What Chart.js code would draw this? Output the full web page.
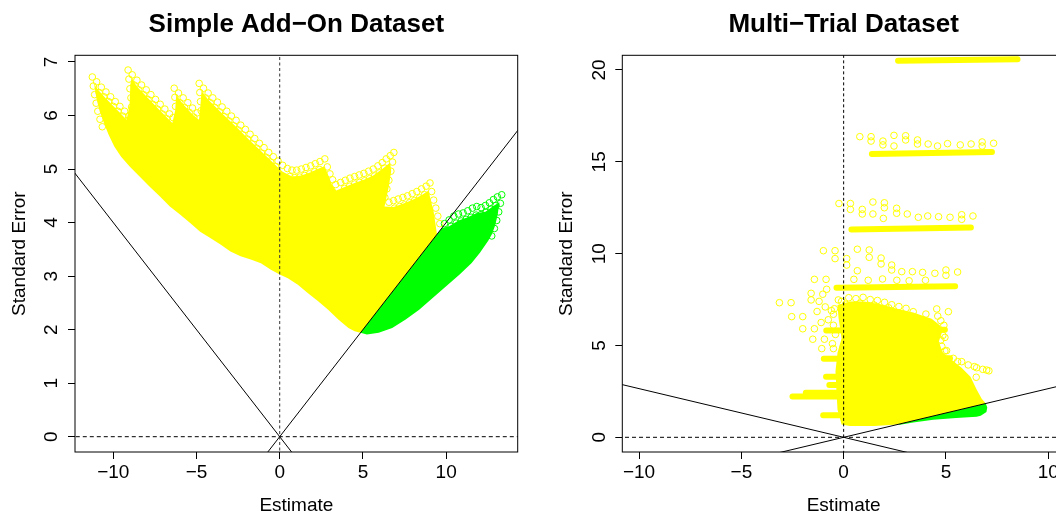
<!DOCTYPE html>
<html lang="en">
<head>
  <meta charset="UTF-8" />
  <title>Funnel Plots</title>
  <script src="https://cdn.jsdelivr.net/npm/chart.js"></script>
  <style>
    html, body { margin: 0; padding: 0; background: #fff; overflow: hidden; }
    #wrap { position: relative; width: 1056px; height: 512px; overflow: hidden; background: #fff; }
    #wrap canvas { position: absolute; top: 0; }
    #addOn { left: 0; }
    #multi { left: 528px; }
  </style>
</head>
<body>
  <div id="wrap">
    <canvas id="addOn" width="528" height="540"></canvas>
    <canvas id="multi" width="548" height="540"></canvas>
  </div>

  <script>
// ---- Simple Add-On Dataset ----
const addOnXTicks = [-10, -5, 0, 5, 10];
const addOnYTicks = [0, 1, 2, 3, 4, 5, 6, 7];
const addOnXRange = [-12.3, 14.3];
const addOnYRange = [-0.286, 7.125];

// dense part of the non-significant cloud
const addOnCloud = [
  [-11.15, 6.58], [-10.85, 6.46], [-10.44, 6.32], [-10.0, 6.18], [-9.6, 6.05], [-9.2, 5.92],
  [-9.02, 6.2], [-8.98, 6.55], [-8.9, 6.7], [-8.58, 6.54], [-8.02, 6.36], [-7.46, 6.18], [-6.9, 6.0], [-6.45, 5.86],
  [-6.28, 6.1], [-6.22, 6.38], [-5.8, 6.21], [-5.24, 6.02], [-4.85, 5.92],
  [-4.76, 6.2], [-4.7, 6.46], [-4.3, 6.3], [-3.46, 6.04], [-2.62, 5.79], [-1.78, 5.53], [-0.94, 5.28], [-0.1, 5.03], [0.18, 4.95],
  [0.74, 4.86], [1.3, 4.88], [1.86, 4.94], [2.42, 5.02], [2.7, 5.05], [2.9, 4.9], [3.15, 4.7], [3.4, 4.6],
  [3.94, 4.67], [4.5, 4.74], [5.06, 4.8], [5.62, 4.88], [6.16, 5.0], [6.64, 5.12], [6.7, 4.96], [6.56, 4.68], [6.4, 4.45], [6.3, 4.3],
  [6.84, 4.29], [7.4, 4.35], [7.96, 4.42], [8.52, 4.51], [8.95, 4.6], [9.05, 4.45], [9.25, 4.2], [9.45, 3.78],
  [4.85, 1.94], [4.5, 1.97], [4.13, 2.03], [3.52, 2.19], [2.91, 2.37], [2.31, 2.53], [1.7, 2.68],
  [1.09, 2.84], [0.49, 2.96], [0, 3.03], [-0.53, 3.12], [-1.13, 3.24], [-1.74, 3.31], [-2.35, 3.37],
  [-2.96, 3.46], [-3.56, 3.59], [-4.17, 3.71], [-4.78, 3.83], [-5.38, 3.99], [-5.99, 4.15], [-6.6, 4.3],
  [-7.21, 4.49], [-7.81, 4.67], [-8.42, 4.86], [-9.03, 5.05], [-9.53, 5.23], [-9.94, 5.42], [-10.28, 5.64],
  [-10.55, 5.85], [-10.81, 6.07], [-11.0, 6.3], [-11.15, 6.58]
];
// dense part of the significant cloud
const addOnSigCloud = [
  [4.85, 1.94], [9.75, 3.9], [10.18, 3.93], [10.74, 4.04], [11.3, 4.1], [11.84, 4.18], [12.36, 4.2],
  [12.84, 4.31], [13.2, 4.38], [13.1, 4.15], [12.95, 3.95], [12.75, 3.78], [12.53, 3.66], [12.02, 3.43],
  [11.52, 3.24], [10.81, 3.03], [10.0, 2.81], [9.19, 2.59], [8.38, 2.37], [7.57, 2.19], [6.76, 2.03],
  [5.95, 1.94], [5.24, 1.91], [4.85, 1.94]
];
// single trials visible along the upper edges
const addOnRings = [
  [-11.26, 6.72], [-11.0, 6.63], [-10.72, 6.53], [-10.44, 6.44], [-10.16, 6.35], [-9.88, 6.26], [-9.6, 6.17], [-9.32, 6.08], [-9.05, 5.99],
  [-11.2, 6.55], [-11.12, 6.39], [-11.03, 6.23], [-10.93, 6.08], [-10.8, 5.93], [-10.66, 5.79],
  [-10.85, 6.43], [-10.57, 6.35], [-10.29, 6.26], [-10.0, 6.17], [-9.72, 6.08], [-9.44, 5.99], [-9.16, 5.9],
  [-9.11, 6.85], [-8.86, 6.76], [-8.58, 6.66], [-8.3, 6.57], [-8.02, 6.48], [-7.74, 6.39], [-7.46, 6.3], [-7.18, 6.21], [-6.9, 6.12], [-6.62, 6.03], [-6.4, 5.96],
  [-9.06, 6.68], [-9.0, 6.5], [-8.94, 6.33], [-8.9, 6.16],
  [-8.75, 6.57], [-8.47, 6.48], [-8.19, 6.39], [-7.91, 6.3], [-7.63, 6.21], [-7.35, 6.12], [-7.07, 6.03], [-6.79, 5.94],
  [-6.34, 6.51], [-6.08, 6.42], [-5.8, 6.33], [-5.52, 6.24], [-5.24, 6.14], [-4.96, 6.05],
  [-6.3, 6.34], [-6.26, 6.17], [-6.0, 6.24], [-5.72, 6.15], [-5.44, 6.06], [-5.16, 5.97],
  [-4.84, 6.6], [-4.58, 6.51], [-4.3, 6.42], [-4.02, 6.33], [-3.74, 6.25], [-3.46, 6.16], [-3.18, 6.08], [-2.9, 5.99], [-2.62, 5.91], [-2.34, 5.82],
  [-2.06, 5.74], [-1.78, 5.65], [-1.5, 5.57], [-1.22, 5.48], [-0.94, 5.4], [-0.66, 5.31], [-0.38, 5.23], [-0.1, 5.15], [0.18, 5.07],
  [-4.8, 6.43], [-4.76, 6.26], [-4.72, 6.09],
  [-4.46, 6.33], [-4.18, 6.24], [-3.9, 6.15], [-3.62, 6.07], [-3.34, 5.98], [-3.06, 5.9], [-2.78, 5.81], [-2.5, 5.73], [-2.22, 5.64],
  [-1.94, 5.56], [-1.66, 5.47], [-1.38, 5.39], [-1.1, 5.3], [-0.82, 5.22], [-0.54, 5.13], [-0.26, 5.05],
  [0.46, 5.01], [0.74, 4.98], [1.02, 4.98], [1.3, 5.0], [1.58, 5.03], [1.86, 5.06], [2.14, 5.1], [2.42, 5.14], [2.71, 5.19],
  [2.86, 5.04], [3.02, 4.91], [3.18, 4.8], [3.36, 4.71],
  [0.6, 4.86], [0.9, 4.84], [1.2, 4.85], [1.5, 4.88], [1.8, 4.91], [2.1, 4.95], [2.4, 4.99],
  [3.66, 4.75], [3.94, 4.79], [4.22, 4.83], [4.5, 4.86], [4.78, 4.89], [5.06, 4.92], [5.34, 4.96], [5.62, 5.0], [5.9, 5.06],
  [6.16, 5.12], [6.4, 5.19], [6.64, 5.25], [6.86, 5.31], [6.78, 5.13], [6.68, 4.96], [6.56, 4.79], [6.44, 4.63], [6.32, 4.47],
  [3.9, 4.64], [4.2, 4.68], [4.5, 4.72], [4.8, 4.75], [5.1, 4.78], [5.4, 4.82], [5.7, 4.87], [6.0, 4.93], [6.3, 5.02],
  [6.56, 4.38], [6.84, 4.41], [7.12, 4.44], [7.4, 4.47], [7.68, 4.5], [7.96, 4.54], [8.24, 4.58], [8.52, 4.63], [8.8, 4.68], [9.03, 4.74],
  [9.13, 4.58], [9.25, 4.42], [9.38, 4.27], [9.5, 4.12], [9.62, 3.98],
  [6.9, 4.27], [7.2, 4.3], [7.5, 4.33], [7.8, 4.37], [8.1, 4.41], [8.4, 4.46], [8.7, 4.52]
];
const addOnSigRings = [
  [9.9, 3.98], [10.18, 4.05], [10.46, 4.12], [10.74, 4.16], [11.02, 4.18], [11.3, 4.22], [11.58, 4.27], [11.84, 4.3],
  [12.1, 4.28], [12.36, 4.32], [12.6, 4.37], [12.84, 4.43], [13.08, 4.48], [13.34, 4.52],
  [13.26, 4.36], [13.16, 4.2], [13.04, 4.04], [12.9, 3.89], [12.74, 3.75],
  [10.3, 3.93], [10.6, 3.99], [10.9, 4.03], [11.2, 4.06], [11.5, 4.1], [11.8, 4.14], [12.1, 4.15], [12.4, 4.19], [12.7, 4.25], [13.0, 4.32]
];
const addOnFunnelLeft = [[-15, 6], [1, -0.4]];
const addOnFunnelRight = [[-1, -0.4], [15, 6]];

// ---- Multi-Trial Dataset ----
const multiXTicks = [-10, -5, 0, 5, 10];
const multiYTicks = [0, 5, 10, 15, 20];
const multiXRange = [-10.82, 10.82];
const multiYRange = [-0.8, 20.8];

const multiBlob = [
  [-0.3, 7.2], [0.3, 7.4], [1.0, 7.4], [1.8, 7.25], [2.6, 7.0], [3.4, 6.8], [4.3, 6.45], [4.7, 6.1],
  [4.85, 5.85], [4.65, 5.2], [4.85, 4.6], [5.3, 4.2], [5.75, 3.8], [6.2, 3.3], [6.5, 2.6], [6.75, 2.1],
  [6.95, 1.84], [2.64, 0.7], [1.5, 0.62], [0.3, 0.62], [-0.1, 0.7], [-0.3, 1.5], [-0.35, 2.5], [-0.4, 3.6],
  [-0.3, 4.6], [-0.1, 5.4], [-0.25, 6.5], [-0.3, 7.2]
];
const multiSigBlob = [
  [2.64, 0.7], [6.95, 1.84], [7.02, 1.62], [6.98, 1.38], [6.7, 1.18], [6.5, 1.12], [5.5, 1.05],
  [4.38, 0.96], [3.4, 0.8], [2.75, 0.68], [2.64, 0.7]
];
// trial streaks: [x start, se start, x end, se end]
const multiBands = [
  [2.66, 20.5, 8.5, 20.58],
  [1.38, 15.43, 7.25, 15.53],
  [0.38, 11.32, 6.22, 11.42],
  [-0.35, 8.14, 5.45, 8.22],
  [-0.85, 5.82, 4.95, 5.86],
  [-0.97, 4.28, 5.2, 4.3],
  [-0.86, 3.3, 0.5, 3.3],
  [-0.7, 2.85, 0.5, 2.85],
  [-1.85, 2.42, 0.5, 2.42],
  [-2.5, 2.22, 0.5, 2.22],
  [-1.0, 1.2, 0.5, 1.2]
];
const multiRings = [
  [0.79, 16.37], [1.34, 16.37], [1.34, 16.13], [1.92, 16.13], [1.92, 15.92], [2.46, 16.44], [2.46, 15.86], [3.03, 16.42],
  [3.03, 16.19], [3.61, 16.19], [3.61, 15.97], [4.13, 15.97], [4.59, 15.86], [5.08, 15.99], [5.7, 15.92], [6.23, 15.97],
  [6.77, 16.08], [6.77, 15.86], [7.33, 16.01],
  [-0.23, 12.73], [0.33, 12.73], [0.33, 12.41], [0.91, 12.41], [0.91, 12.16], [1.43, 12.81], [1.43, 12.16], [1.99, 12.77],
  [1.99, 12.5], [1.94, 11.92], [2.59, 12.47], [2.59, 12.2], [3.11, 12.16], [3.65, 11.98], [4.11, 12.05], [4.64, 12.01],
  [5.2, 11.98], [5.77, 12.12], [5.77, 11.87], [6.32, 12.05],
  [-0.99, 10.16], [-0.42, 10.16], [-0.42, 9.73], [0.15, 9.73], [0.15, 9.38], [0.67, 10.24], [0.67, 9.07], [1.25, 10.2],
  [1.25, 9.8], [1.83, 9.76], [1.83, 9.44], [2.35, 9.38], [2.35, 9.11], [2.84, 9.02], [3.36, 9.02], [3.86, 8.98],
  [4.46, 8.93], [5.0, 9.11], [5.0, 8.82], [5.57, 9.0], [-1.43, 8.6], [-0.86, 8.6], [0.5, 8.6], [1.2, 8.55],
  [1.9, 8.62], [2.6, 8.55], [3.2, 8.52], [4.0, 8.55],
  [-3.14, 7.33], [-2.57, 7.33], [-2.54, 6.57], [-2.0, 6.57], [-2.0, 5.91], [-1.43, 5.91], [-1.51, 5.34], [-0.94, 5.34],
  [-1.07, 4.83], [-0.5, 4.83], [-1.59, 7.84], [-1.59, 7.48], [-1.2, 7.4], [-1.02, 7.79], [-0.83, 8.06], [-0.26, 7.48],
  [-0.02, 4.93], [-0.9, 7.1], [-0.6, 6.9], [-1.3, 6.85], [-0.75, 6.4], [-0.5, 6.1], [-1.1, 6.25],
  [3.4, 6.84], [4.02, 6.71], [4.55, 6.99], [5.12, 6.84], [4.6, 6.6], [3.86, 6.39], [4.95, 5.44], [4.46, 5.19],
  [5.03, 4.72], [5.36, 4.3], [5.77, 4.12], [6.09, 3.94], [6.5, 3.79], [6.99, 3.66], [7.1, 3.62], [6.48, 3.27],
  [6.03, 3.0], [5.08, 4.25], [5.57, 4.12], [6.39, 3.85], [6.8, 3.7],
  [-0.1, 7.4], [0.25, 7.6], [0.6, 7.55], [0.95, 7.62], [1.3, 7.5], [1.65, 7.45], [2.0, 7.35], [2.35, 7.22], [2.7, 7.12],
  [3.05, 7.02], [0.1, 7.25], [0.8, 7.3], [1.5, 7.2], [2.2, 7.05], [-0.45, 7.0], [-0.5, 6.7], [-0.4, 5.6], [-0.55, 5.1],
  [4.75, 6.35], [4.9, 6.1], [4.85, 5.55], [4.75, 5.3], [4.8, 4.95], [4.95, 4.7]
];
const multiFunnelLeft = [[-12, 3.18], [4, -1.06]];
const multiFunnelRight = [[-4, -1.06], [12, 3.18]];

const FONT = '"Liberation Sans", Arial, Helvetica, sans-serif';
const YELLOW = '#ffff00';
const GREEN = '#00ff00';
const CLEAR = 'rgba(0,0,0,0)';

const toPts = arr => arr.map(([x, y]) => ({ x, y }));
const minus = v => String(v).replace('-', '\u2212');

function polygon(pts, color, order) {
  return { data: toPts(pts), showLine: true, fill: 'shape', backgroundColor: color,
           borderColor: CLEAR, borderWidth: 1, pointRadius: 0, order };
}
function rings(pts, color, order) {
  return { data: toPts(pts), pointStyle: 'circle', pointRadius: 3.3, borderWidth: 1,
           borderColor: color, backgroundColor: CLEAR, order };
}
function line(pts, opts, order) {
  return Object.assign({ data: toPts(pts), showLine: true, pointRadius: 0, borderColor: '#000',
                         borderWidth: 1, backgroundColor: CLEAR, fill: false, order }, opts);
}

// R style y labels, drawn parallel to the axis
const sideTicks = {
  id: 'sideTicks',
  afterDraw(chart) {
    const ys = chart.scales.y, ctx = chart.ctx;
    ctx.save();
    ctx.font = '19px ' + FONT;
    ctx.fillStyle = '#000';
    ctx.textAlign = 'center';
    ctx.textBaseline = 'middle';
    ys.ticks.forEach(t => {
      ctx.save();
      ctx.translate(ys.right - 23, ys.getPixelForValue(t.value));
      ctx.rotate(-Math.PI / 2);
      ctx.fillText(minus(t.value), 0, 0);
      ctx.restore();
    });
    ctx.restore();
  }
};

// plot box
const frame = {
  id: 'frame',
  afterDatasetsDraw(chart) {
    const a = chart.chartArea, ctx = chart.ctx;
    ctx.save();
    ctx.strokeStyle = '#000';
    ctx.lineWidth = 1;
    ctx.strokeRect(a.left, a.top, a.right - a.left, a.bottom - a.top);
    ctx.restore();
  }
};

function panelOptions(p) {
  return {
    responsive: false,
    animation: false,
    events: [],
    layout: { padding: { left: 0, right: p.padRight, top: 0, bottom: 0 } },
    plugins: {
      legend: { display: false },
      tooltip: { enabled: false },
      title: {
        display: true, text: p.title, fullSize: false, color: '#000',
        font: { family: FONT, size: 26, weight: 'bold' },
        padding: { top: 9, bottom: 15.1 }
      }
    },
    scales: {
      x: {
        type: 'linear', min: p.xRange[0], max: p.xRange[1],
        afterBuildTicks: s => { s.ticks = p.xTicks.map(value => ({ value })); },
        afterFit: s => { s.height = 88; },
        border: { display: false },
        grid: { drawOnChartArea: false, drawTicks: true, tickLength: 7, tickColor: '#000' },
        ticks: { color: '#000', font: { family: FONT, size: 19 }, padding: 2, maxRotation: 0, autoSkip: false,
                 callback: v => minus(v) },
        title: { display: true, text: 'Estimate', color: '#000', font: { family: FONT, size: 19 },
                 padding: { top: 0, bottom: 23 } }
      },
      y: {
        type: 'linear', min: p.yRange[0], max: p.yRange[1],
        afterBuildTicks: s => { s.ticks = p.yTicks.map(value => ({ value })); },
        afterFit: s => { s.width = p.axisLeft; },
        border: { display: false },
        grid: { drawOnChartArea: false, drawTicks: true, tickLength: 7, tickColor: '#000' },
        ticks: { display: false },
        title: { display: true, text: 'Standard Error', color: '#000', font: { family: FONT, size: 19 },
                 padding: { top: p.yTitlePad, bottom: 0 } }
      }
    }
  };
}

new Chart(document.getElementById('addOn'), {
  type: 'scatter',
  data: {
    datasets: [
      line([[addOnXRange[0] - 5, 0], [addOnXRange[1] + 5, 0]], { borderDash: [4, 3] }, 0),
      line([[0, addOnYRange[0] - 1], [0, addOnYRange[1] + 1]], { borderDash: [3, 2.5], borderColor: '#333' }, 0),
      line(addOnFunnelLeft, {}, 0),
      line(addOnFunnelRight, {}, 0),
      rings(addOnSigRings, GREEN, 2),
      rings(addOnRings, YELLOW, 3),
      polygon(addOnSigCloud, GREEN, 4),
      polygon(addOnCloud, YELLOW, 5)
    ]
  },
  options: panelOptions({
    title: 'Simple Add\u2212On Dataset', xRange: addOnXRange, yRange: addOnYRange,
    xTicks: addOnXTicks, yTicks: addOnYTicks, axisLeft: 75, padRight: 10.3, yTitlePad: 8.5
  }),
  plugins: [sideTicks, frame]
});

new Chart(document.getElementById('multi'), {
  type: 'scatter',
  data: {
    datasets: [
      line([[multiXRange[0] - 5, 0], [multiXRange[1] + 5, 0]], { borderDash: [4, 3] }, 0),
      line([[0, multiYRange[0] - 1], [0, multiYRange[1] + 1]], { borderDash: [3, 2.5] }, 0),
      line(multiFunnelLeft, {}, 0),
      line(multiFunnelRight, {}, 0),
      polygon(multiSigBlob, GREEN, 2),
      rings(multiRings, YELLOW, 3),
      ...multiBands.map(([x1, y1, x2, y2]) =>
        line([[x1, y1], [x2, y2]], { borderColor: YELLOW, borderWidth: 6, borderCapStyle: 'round' }, 4)),
      polygon(multiBlob, YELLOW, 5)
    ]
  },
  options: panelOptions({
    title: 'Multi\u2212Trial Dataset', xRange: multiXRange, yRange: multiYRange,
    xTicks: multiXTicks, yTicks: multiYTicks, axisLeft: 94.3, padRight: 11, yTitlePad: 27.6
  }),
  plugins: [sideTicks, frame]
});
  </script>
</body>
</html>
